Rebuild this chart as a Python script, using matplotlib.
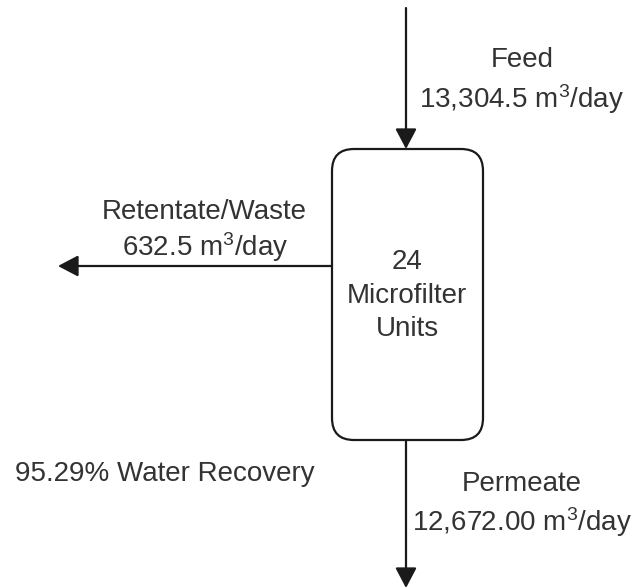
import matplotlib
matplotlib.use("Agg")
import matplotlib.pyplot as plt
from matplotlib.patches import FancyBboxPatch

plt.rcParams['font.family'] = ['Liberation Sans', 'DejaVu Sans']
plt.rcParams['mathtext.fontset'] = 'custom'
plt.rcParams['mathtext.rm'] = 'Liberation Sans'
plt.rcParams['mathtext.it'] = 'Liberation Sans'
plt.rcParams['mathtext.bf'] = 'Liberation Sans:bold'

# Data
unit_count = 24
unit_label = "Microfilter\nUnits"
feed_flow = "13,304.5"
retentate_flow = "632.5"
permeate_flow = "12,672.00"
recovery_pct = "95.29%"
stream_names = ["Feed", "Retentate/Waste", "Permeate"]

W, H = 636, 588
fig = plt.figure(figsize=(W / 100, H / 100), dpi=100)
ax = fig.add_axes([0, 0, 1, 1])
ax.set_xlim(0, W)
ax.set_ylim(H, 0)
ax.axis('off')

line_col = '#1a1a1a'
text_col = '#333333'
fs = 20

# box
box_l, box_r, box_t, box_b = 332, 483, 149, 440
r = 22
box = FancyBboxPatch((box_l + r, box_t + r), (box_r - box_l) - 2 * r, (box_b - box_t) - 2 * r,
                     boxstyle=f"round,pad={r}", fc='white', ec=line_col, lw=1.6, zorder=2)
ax.add_patch(box)

arrow_kw = dict(arrowstyle='-|>,head_length=0.95,head_width=0.5', color=line_col, lw=1.6,
                shrinkA=0, shrinkB=0, mutation_scale=13)
cx = 406
# feed
ax.annotate('', xy=(cx, box_t), xytext=(cx, 8), arrowprops=arrow_kw, zorder=3)
# retentate
ax.annotate('', xy=(58, 266), xytext=(box_l, 266), arrowprops=arrow_kw, zorder=3)
# permeate
ax.annotate('', xy=(cx, 588), xytext=(cx, box_b), arrowprops=arrow_kw, zorder=3)

unit = r" m$^3$/day"
tk = dict(ha='center', va='center', color=text_col, fontsize=fs)
ax.text(522, 60, stream_names[0], **tk)
ax.text(522, 99, feed_flow + unit, **tk)
ax.text(204, 212, stream_names[1], **tk)
ax.text(205, 247, retentate_flow + unit, **tk)
ax.text(522, 484, stream_names[2], **tk)
ax.text(522, 522, permeate_flow + unit, **tk)
ax.text(407, 262, str(unit_count), **tk)
lines = unit_label.split("\n")
ax.text(407, 296, lines[0], **tk)
ax.text(407, 329, lines[1], **tk)
ax.text(165, 474, recovery_pct + " Water Recovery", **tk)

fig.savefig("out.png", dpi=100, facecolor='white')
